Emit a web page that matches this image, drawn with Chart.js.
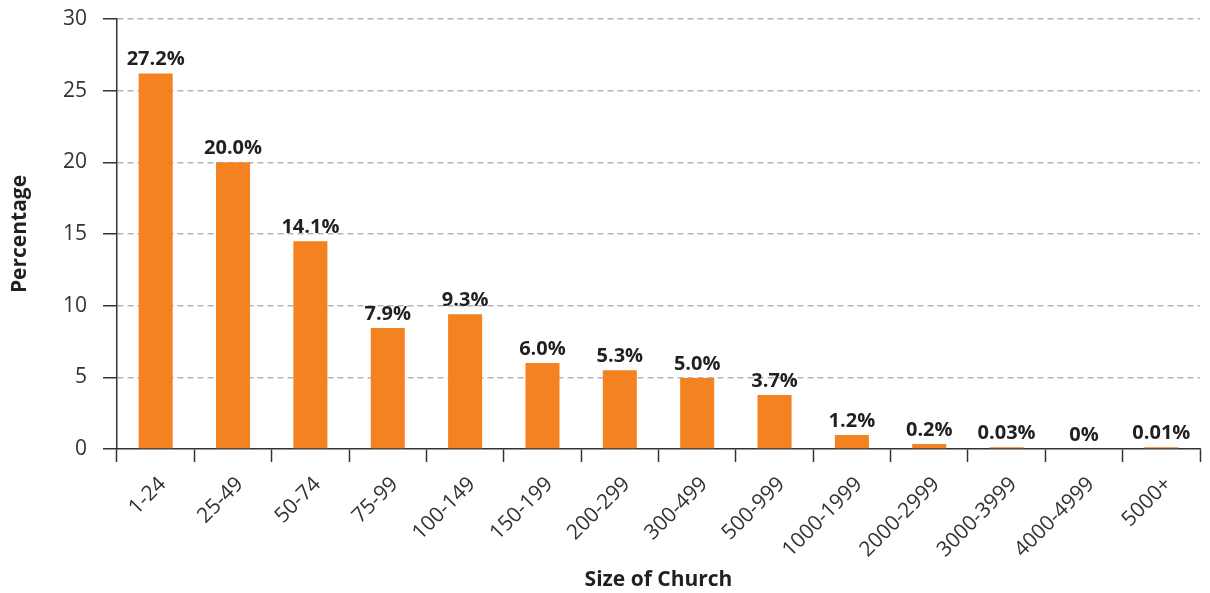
<!DOCTYPE html>
<html>
<head>
<meta charset="utf-8">
<script src="https://cdn.jsdelivr.net/npm/chart.js@4.4.1/dist/chart.umd.min.js"></script>
<style>
  html, body { margin: 0; padding: 0; background: #fff; }
  #wrap { width: 1210px; height: 593px; position: relative; }
</style>
</head>
<body>
<div id="wrap"><canvas id="c" width="1210" height="593"></canvas></div>
<script>
const categories = ["1-24","25-49","50-74","75-99","100-149","150-199","200-299","300-499","500-999","1000-1999","2000-2999","3000-3999","4000-4999","5000+"];
const barValues = [26.2, 20.0, 14.5, 8.45, 9.4, 6.0, 5.5, 4.95, 3.77, 0.98, 0.35, 0.12, 0, 0.12];
const valueLabels = ["27.2%","20.0%","14.1%","7.9%","9.3%","6.0%","5.3%","5.0%","3.7%","1.2%","0.2%","0.03%","0%","0.01%"];
const yTicks = [0, 5, 10, 15, 20, 25, 30];

const FONT = "'Open Sans', 'DejaVu Sans', sans-serif";
const AXIS = '#333333';

const labelPlugin = {
  id: 'valueLabels',
  afterDatasetsDraw(chart) {
    const ctx = chart.ctx;
    const meta = chart.getDatasetMeta(0);
    ctx.save();
    ctx.font = "bold 20px " + FONT;
    ctx.fillStyle = '#231f20';
    ctx.textAlign = 'center';
    ctx.textBaseline = 'alphabetic';
    meta.data.forEach((bar, i) => {
      ctx.fillText(valueLabels[i], bar.x, bar.y - 8);
    });
    ctx.restore();
  }
};

new Chart(document.getElementById('c'), {
  type: 'bar',
  data: {
    labels: categories,
    datasets: [{
      data: barValues,
      backgroundColor: '#f48220',
      borderWidth: 0,
      barPercentage: 1,
      categoryPercentage: 0.44
    }]
  },
  options: {
    responsive: false,
    animation: false,
    devicePixelRatio: 1,
    layout: { padding: { top: 19, right: 10, bottom: 0, left: 0 } },
    plugins: { legend: { display: false }, tooltip: { enabled: false } },
    scales: {
      x: {
        afterFit(scale) { scale.height = 144; scale.paddingLeft = 0; scale.paddingRight = 0; },
        grid: {
          offset: true,
          drawOnChartArea: false,
          drawTicks: true,
          tickLength: 13,
          tickColor: AXIS,
          tickWidth: 1.5
        },
        border: { display: true, color: AXIS, width: 1.5 },
        ticks: {
          color: '#333333',
          font: { family: FONT, size: 21 },
          minRotation: 45,
          maxRotation: 45,
          padding: 10,
          labelOffset: 7
        },
        title: {
          display: true,
          text: 'Size of Church',
          color: '#231f20',
          font: { family: FONT, size: 21, weight: 'bold' },
          padding: { top: 0, bottom: 0 }
        }
      },
      y: {
        min: 0,
        max: 30,
        afterFit(scale) { scale.width = 117; scale.paddingTop = 0; scale.paddingBottom = 0; },
        afterBuildTicks(scale) { scale.ticks = yTicks.map(v => ({ value: v })); },
        grid: {
          color: (ctx) => (ctx.tick && ctx.tick.value === 0) ? 'rgba(0,0,0,0)' : '#b5b5b5',
          lineWidth: 1.5,
          drawTicks: true,
          tickLength: 14,
          tickColor: AXIS,
          tickWidth: 1.5,
          tickBorderDash: [0, 0]
        },
        border: { display: true, color: AXIS, width: 1.5, dash: [6, 4] },
        ticks: {
          color: '#333333',
          font: { family: FONT, size: 21 },
          padding: 16
        },
        title: {
          display: true,
          text: 'Percentage',
          color: '#231f20',
          font: { family: FONT, size: 21, weight: 'bold' },
          padding: { top: 7, bottom: 0 }
        }
      }
    }
  },
  plugins: [labelPlugin]
});
</script>
</body>
</html>
